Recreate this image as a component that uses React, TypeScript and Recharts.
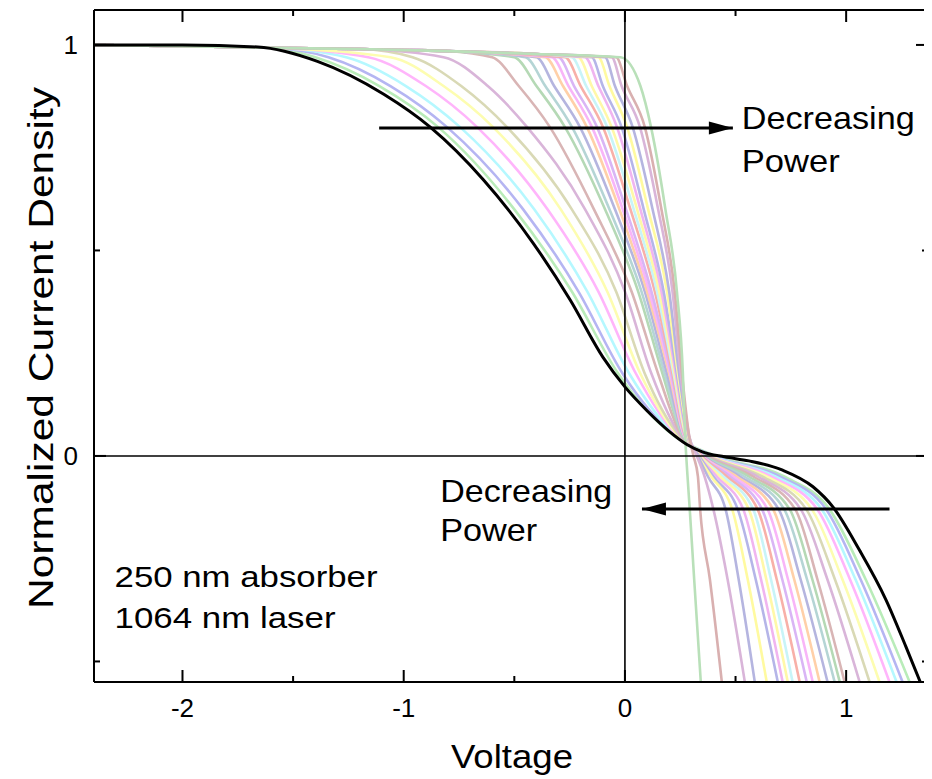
import React from 'react';
import { LineChart, Line, XAxis, YAxis, ReferenceLine, ReferenceDot } from 'recharts';

const FONT = "'Liberation Sans', Arial, Helvetica, sans-serif";

// Shared current-density levels (normalized) at which each curve's voltage is read
const J_LEVELS = [0.97, 0.9, 0.8, 0.6, 0.4, 0.2, 0.05, 0, -0.05, -0.13, -0.3, -0.55];
// Flat plateau on the left (all curves)
const PLATEAU_V = [-2.4, -2.0, -1.6, -1.2, -0.8, -0.4];
const PLATEAU_J = [1.0, 0.997, 0.993, 0.99, 0.985, 0.978];

// Voltage of each pastel curve at J_LEVELS (highest power first)
const CURVE_V = [
  [-1.40, -1.11, -0.844, -0.50, -0.24, -0.03, 0.22, 0.41, 0.72, 0.925, 1.088, 1.287],
  [-1.34, -1.06, -0.804, -0.46, -0.21, -0.01, 0.225, 0.40, 0.70, 0.91, 1.065, 1.255],
  [-1.26, -0.99, -0.745, -0.41, -0.17, 0.02, 0.23, 0.395, 0.68, 0.89, 1.042, 1.228],
  [-1.16, -0.90, -0.668, -0.35, -0.12, 0.05, 0.235, 0.39, 0.66, 0.87, 1.017, 1.196],
  [-1.06, -0.82, -0.596, -0.29, -0.08, 0.07, 0.24, 0.385, 0.64, 0.845, 0.983, 1.151],
  [-0.96, -0.74, -0.533, -0.24, -0.04, 0.09, 0.245, 0.38, 0.62, 0.82, 0.949, 1.106],
  [-0.82, -0.62, -0.442, -0.18, 0.0, 0.12, 0.25, 0.375, 0.60, 0.795, 0.915, 1.061],
  [-0.60, -0.48, -0.339, -0.14, 0.03, 0.15, 0.255, 0.37, 0.58, 0.77, 0.87, 0.993],
  [-0.50, -0.40, -0.271, -0.09, 0.06, 0.17, 0.26, 0.365, 0.56, 0.745, 0.847, 0.971],
  [-0.45, -0.36, -0.239, -0.07, 0.075, 0.18, 0.262, 0.36, 0.54, 0.72, 0.823, 0.948],
  [-0.40, -0.32, -0.203, -0.045, 0.09, 0.19, 0.265, 0.355, 0.52, 0.695, 0.794, 0.916],
  [-0.36, -0.28, -0.172, -0.025, 0.10, 0.20, 0.267, 0.35, 0.505, 0.67, 0.765, 0.88],
  [-0.33, -0.255, -0.149, -0.01, 0.11, 0.205, 0.268, 0.35, 0.49, 0.645, 0.737, 0.849],
  [-0.30, -0.23, -0.126, 0.005, 0.12, 0.21, 0.27, 0.345, 0.475, 0.62, 0.711, 0.822],
  [-0.27, -0.20, -0.099, 0.025, 0.135, 0.215, 0.272, 0.345, 0.46, 0.60, 0.686, 0.79],
  [-0.24, -0.175, -0.08, 0.04, 0.145, 0.22, 0.275, 0.34, 0.445, 0.58, 0.66, 0.758],
  [-0.21, -0.15, -0.06, 0.055, 0.155, 0.225, 0.277, 0.34, 0.43, 0.56, 0.639, 0.736],
  [-0.18, -0.12, -0.036, 0.07, 0.165, 0.23, 0.28, 0.335, 0.415, 0.535, 0.615, 0.713],
  [-0.15, -0.10, -0.015, 0.085, 0.175, 0.235, 0.282, 0.335, 0.40, 0.51, 0.591, 0.691],
  [-0.12, -0.07, 0.01, 0.105, 0.19, 0.24, 0.285, 0.33, 0.39, 0.485, 0.555, 0.641],
  [-0.09, -0.045, 0.035, 0.125, 0.20, 0.245, 0.288, 0.33, 0.375, 0.455, 0.514, 0.587],
  [-0.06, -0.015, 0.068, 0.15, 0.215, 0.252, 0.29, 0.325, 0.36, 0.40, 0.464, 0.542],
  [-0.04, 0.01, 0.09, 0.165, 0.225, 0.258, 0.29, 0.31, 0.33, 0.34, 0.384, 0.438],
  [-0.02, 0.07, 0.118, 0.183, 0.235, 0.262, 0.272, 0.277, 0.283, 0.293, 0.313, 0.343],
];

const CURVE_COLORS = [
  '#b9ecb9', '#b5b5f2', '#b5f8ff', '#ffb5fb', '#fdfdb0', '#d9d9b5', '#d9b5d9', '#d9b5b5',
  '#b5d9b5', '#b5d5d5', '#b5b5df', '#ffd0a8', '#f8b5f8', '#d9b5f5', '#f8b0a8', '#c8f4f8',
  '#fff8a8', '#f0b5f0', '#b5b5e8', '#fffaa0', '#b5b5e0', '#d9b5d9', '#d9b0b0', '#b9e0b9',
];

// Highest-power curve (black)
const BLACK_V = [-2.4, -2.0, -1.66, -1.39, -1.09, -0.88, -0.64, -0.415, -0.248, -0.099, 0, 0.1, 0.2, 0.28, 0.35, 0.45, 0.56, 0.71, 0.85, 0.94, 1.06, 1.18, 1.27, 1.335];
const BLACK_J = [1.0, 1.0, 0.995, 0.96, 0.88, 0.80, 0.672, 0.518, 0.38, 0.24, 0.168, 0.11, 0.06, 0.028, 0.01, -0.002, -0.012, -0.034, -0.075, -0.124, -0.229, -0.35, -0.464, -0.55];

const X_TICKS = [-2, -1.5, -1, -0.5, 0, 0.5, 1];
const Y_TICKS = [-0.5, 0, 0.5, 1];
const X_DOMAIN = [-2.4, 1.37];
const Y_DOMAIN = [-0.55, 1.085];

const curveData = CURVE_V.map((vs) => {
  const pts: { v: number; j: number }[] = [];
  PLATEAU_V.forEach((v, i) => {
    if (v < vs[0] - 0.15) pts.push({ v, j: PLATEAU_J[i] });
  });
  vs.forEach((v, i) => pts.push({ v, j: J_LEVELS[i] }));
  return pts;
});
const blackData = BLACK_V.map((v, i) => ({ v, j: BLACK_J[i] }));

const isMajor = (val: number) => Math.abs(val - Math.round(val)) < 1e-9;

const BottomTick = (props: any) => {
  const { x, y, payload } = props;
  const major = isMajor(payload.value);
  return (
    <g>
      <line x1={x} x2={x} y1={y} y2={y - (major ? 12 : 6)} stroke="#000" strokeWidth={2} />
      {major && (
        <text x={x} y={y + 35} textAnchor="middle" fontSize={26} fontFamily={FONT} fill="#000">
          {String(payload.value)}
        </text>
      )}
    </g>
  );
};
const TopTick = (props: any) => {
  const { x, y, payload } = props;
  const major = isMajor(payload.value);
  return <line x1={x} x2={x} y1={y} y2={y + (major ? 12 : 6)} stroke="#000" strokeWidth={2} />;
};
const LeftTick = (props: any) => {
  const { x, y, payload } = props;
  const major = isMajor(payload.value);
  return (
    <g>
      <line x1={x} x2={x + (major ? 12 : 6)} y1={y} y2={y} stroke="#000" strokeWidth={2} />
      {major && (
        <text x={x - 16} y={y + 9} textAnchor="end" fontSize={26} fontFamily={FONT} fill="#000">
          {String(payload.value)}
        </text>
      )}
    </g>
  );
};
const RightTick = (props: any) => {
  const { x, y, payload } = props;
  const major = isMajor(payload.value);
  return <line x1={x} x2={x - (major ? 12 : 6)} y1={y} y2={y} stroke="#000" strokeWidth={2} />;
};

const YLabel = (props: any) => {
  const vb = props.viewBox || { x: 26, y: 2, width: 60, height: 672 };
  const cx = vb.x + 6;
  const cy = vb.y + vb.height / 2 + 2;
  return (
    <text
      x={cx}
      y={cy}
      transform={`rotate(-90, ${cx}, ${cy})`}
      textAnchor="middle"
      dominantBaseline="central"
      fontSize={35}
      fontFamily={FONT}
      fill="#000"
      textLength={522}
      lengthAdjust="spacingAndGlyphs"
    >
      Normalized Current Density
    </text>
  );
};
const XLabel = (props: any) => {
  const vb = props.viewBox || { x: 86, y: 674, width: 834, height: 60 };
  return (
    <text
      x={vb.x + vb.width / 2 + 1}
      y={vb.y + 86}
      textAnchor="middle"
      fontSize={34}
      fontFamily={FONT}
      fill="#000"
      textLength={122}
      lengthAdjust="spacingAndGlyphs"
    >
      Voltage
    </text>
  );
};

const ANNOTATIONS = [
  { text: 'Decreasing', v: 0.528, j: 0.796, len: 173, size: 32 },
  { text: 'Power', v: 0.528, j: 0.691, len: 98, size: 32 },
  { text: 'Decreasing', v: -0.835, j: -0.112, len: 172, size: 32 },
  { text: 'Power', v: -0.835, j: -0.207, len: 97, size: 32 },
  { text: '250 nm absorber', v: -2.307, j: -0.319, len: 263, size: 30 },
  { text: '1064 nm laser', v: -2.307, j: -0.418, len: 221, size: 30 },
];

const ARROWS = [
  { from: -1.111, to: 0.488, j: 0.798 },
  { from: 1.196, to: 0.077, j: -0.129 },
];

const arrowHead = (dir: number) => (p: any) => {
  const { cx, cy } = p;
  const pts = `${cx},${cy} ${cx - dir * 24},${cy - 6.5} ${cx - dir * 24},${cy + 6.5}`;
  return <polygon points={pts} fill="#000" />;
};

export default function App() {
  return (
    <LineChart
      width={924}
      height={771}
      margin={{ top: 1, right: 3, bottom: 37, left: 26 }}
      style={{ background: '#fff' }}
    >
      <XAxis
        dataKey="v"
        type="number"
        domain={X_DOMAIN}
        allowDataOverflow
        ticks={X_TICKS}
        interval={0}
        tickSize={0}
        tickMargin={0}
        tickLine={false}
        tick={<BottomTick />}
        axisLine={{ stroke: '#000', strokeWidth: 2 }}
        height={60}
        label={<XLabel />}
      />
      <XAxis
        xAxisId="top"
        orientation="top"
        dataKey="v"
        type="number"
        domain={X_DOMAIN}
        allowDataOverflow
        ticks={X_TICKS}
        interval={0}
        tickSize={0}
        tickMargin={0}
        tickLine={false}
        tick={<TopTick />}
        axisLine={{ stroke: '#000', strokeWidth: 2 }}
        height={1}
      />
      <YAxis
        type="number"
        domain={Y_DOMAIN}
        allowDataOverflow
        ticks={Y_TICKS}
        interval={0}
        tickSize={0}
        tickMargin={0}
        tickLine={false}
        tick={<LeftTick />}
        axisLine={{ stroke: '#000', strokeWidth: 2 }}
        width={60}
        label={<YLabel />}
      />
      <YAxis
        yAxisId="right"
        orientation="right"
        type="number"
        domain={Y_DOMAIN}
        allowDataOverflow
        ticks={Y_TICKS}
        interval={0}
        tickSize={0}
        tickMargin={0}
        tickLine={false}
        tick={<RightTick />}
        axisLine={{ stroke: '#000', strokeWidth: 2 }}
        width={1}
      />

      {curveData.map((d, i) => (
        <Line
          key={`c${i}`}
          data={d}
          dataKey="j"
          type="monotone"
          stroke={CURVE_COLORS[i % CURVE_COLORS.length]}
          strokeWidth={2.6}
          dot={false}
          activeDot={false}
          isAnimationActive={false}
        />
      ))}

      <ReferenceLine x={0} stroke="#000" strokeWidth={1.6} />
      <ReferenceLine y={0} stroke="#000" strokeWidth={1.6} />

      <Line
        data={blackData}
        dataKey="j"
        type="monotone"
        stroke="#000"
        strokeWidth={3}
        dot={false}
        activeDot={false}
        isAnimationActive={false}
      />

      {ARROWS.map((a, i) => (
        <ReferenceLine
          key={`as${i}`}
          segment={[{ x: a.from, y: a.j }, { x: a.to, y: a.j }]}
          stroke="#000"
          strokeWidth={3}
        />
      ))}
      {ARROWS.map((a, i) => (
        <ReferenceDot
          key={`ah${i}`}
          x={a.to}
          y={a.j}
          r={1}
          shape={arrowHead(a.to > a.from ? 1 : -1)}
        />
      ))}
      {ANNOTATIONS.map((t, i) => (
        <ReferenceDot
          key={`t${i}`}
          x={t.v}
          y={t.j}
          r={1}
          shape={(p: any) => (
            <text
              x={p.cx}
              y={p.cy}
              fontSize={t.size}
              fontFamily={FONT}
              fill="#000"
              textLength={t.len}
              lengthAdjust="spacingAndGlyphs"
            >
              {t.text}
            </text>
          )}
        />
      ))}
    </LineChart>
  );
}
